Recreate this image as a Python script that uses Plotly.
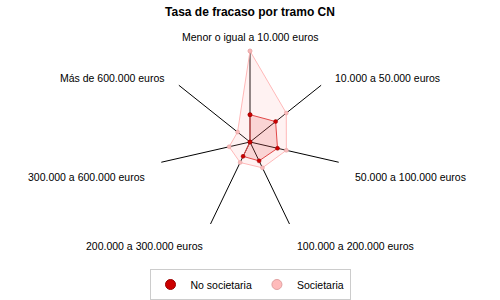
import math
import plotly.graph_objects as go

categories = [
    "Menor o igual a 10.000 euros",
    "10.000 a 50.000 euros",
    "50.000 a 100.000 euros",
    "100.000 a 200.000 euros",
    "200.000 a 300.000 euros",
    "300.000 a 600.000 euros",
    "Más de 600.000 euros",
]
no_societaria = [0.30, 0.36, 0.31, 0.23, 0.175, 0.0, 0.0]
societaria = [1.0, 0.51, 0.41, 0.315, 0.25, 0.235, 0.175]

FONT = "Liberation Sans, Arial, sans-serif"
W, H = 500, 300
MT, MB = 51, 59
R = (H - MT - MB) / 2.0
CX, CY = W / 2.0, MT + R

def closed(v):
    return list(v) + [v[0]]

fig = go.Figure()
fig.add_trace(go.Scatterpolar(
    r=closed(societaria), theta=closed(categories), name="Societaria",
    mode="lines+markers", fill="toself", showlegend=False, legendgroup="s",
    fillcolor="rgba(255,170,170,0.15)",
    line=dict(color="#FFB8B8", width=1),
    marker=dict(color="#F8B8B8", size=4, line=dict(color="#E0A0A0", width=0.5)),
))
fig.add_trace(go.Scatterpolar(
    r=closed(no_societaria), theta=closed(categories), name="No societaria",
    mode="lines+markers", fill="toself", showlegend=False, legendgroup="n",
    fillcolor="rgba(220,40,40,0.15)",
    line=dict(color="#E04848", width=1),
    marker=dict(color="#CC0000", size=4, line=dict(color="#990000", width=0.5)),
))
# legend entries (marker only)
fig.add_trace(go.Scatterpolar(
    r=[None], theta=[categories[0]], name="Societaria", mode="markers", legendgroup="s",
    marker=dict(color="#FFBBBB", size=10, line=dict(color="#E0A0A0", width=1)),
))
fig.add_trace(go.Scatterpolar(
    r=[None], theta=[categories[0]], name="No societaria", mode="markers", legendgroup="n",
    marker=dict(color="#CC0000", size=10, line=dict(color="#990000", width=1)),
))

# category labels placed just outside each spoke
annotations = []
n = len(categories)
GAP = 12
for i, cat in enumerate(categories):
    th = 2 * math.pi * i / n
    s, c = math.sin(th), math.cos(th)
    px = CX + (R + GAP) * s
    py = CY - (R + GAP) * c
    xa = "left" if s > 0.01 else ("right" if s < -0.01 else "center")
    ya = "top" if c < -0.01 else "middle"
    ys = -5 if c < -0.01 else (3 if c > 0.99 else 0)
    annotations.append(dict(
        text=cat, xref="paper", yref="paper",
        x=px / W, y=(H - MB - py) / (H - MT - MB),
        xanchor=xa, yanchor=ya, yshift=ys, showarrow=False, borderpad=0,
        font=dict(family=FONT, size=10.5, color="black"),
    ))

fig.update_layout(
    width=W, height=H,
    paper_bgcolor="white", plot_bgcolor="white",
    margin=dict(l=0, r=0, t=MT, b=MB),
    title=dict(text="<b>Tasa de fracaso por tramo CN</b>", x=0.5, xanchor="center",
               y=0.975, yanchor="top", font=dict(family=FONT, size=12, color="black")),
    font=dict(family=FONT, size=10.5, color="black"),
    polar=dict(
        bgcolor="white",
        domain=dict(x=[0, 1], y=[0, 1]),
        radialaxis=dict(visible=False, range=[0, 1.0], showgrid=False),
        angularaxis=dict(
            direction="clockwise", rotation=90,
            showline=False, showgrid=True, gridcolor="black", gridwidth=1,
            showticklabels=False, ticks="",
        ),
    ),
    annotations=annotations,
    showlegend=True,
    legend=dict(orientation="h", x=0.5, xanchor="center", y=-0.2, yanchor="top",
                traceorder="reversed", bordercolor="#CCCCCC", borderwidth=1,
                font=dict(family=FONT, size=10.5, color="black"),
                itemwidth=30, tracegroupgap=0),
)

fig.write_html("out.html")
